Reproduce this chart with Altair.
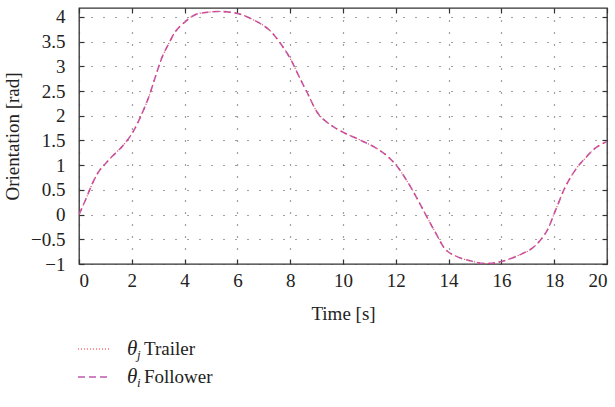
import altair as alt
import pandas as pd

# Orientation trajectory (time in s, angle in rad)
time_s = [0, 0.25, 0.5, 0.76, 1.0, 1.26, 1.64, 2.02, 2.34, 2.65, 2.9, 3.16, 3.41,
          3.66, 4.04, 4.42, 4.8, 5.3, 6.0, 6.57, 7.2, 7.7, 8.02, 8.33, 8.65, 9.09,
          9.6, 10.1, 10.61, 11.24, 11.62, 12.0, 12.39, 12.76, 13.13, 13.51, 13.89,
          14.27, 14.77, 15.4, 16.0, 16.67, 17.17, 17.68, 18.06, 18.43, 18.81,
          19.19, 19.57, 20.0]
orientation = [0, 0.30, 0.62, 0.88, 1.03, 1.18, 1.38, 1.65, 1.99, 2.39, 2.80, 3.20,
               3.47, 3.71, 3.91, 4.05, 4.09, 4.11, 4.07, 3.95, 3.74, 3.41, 3.14, 2.80,
               2.46, 2.02, 1.79, 1.64, 1.52, 1.35, 1.21, 1.01, 0.71, 0.37, 0.0, -0.37,
               -0.71, -0.84, -0.93, -0.99, -0.95, -0.82, -0.68, -0.37, 0.10, 0.57,
               0.91, 1.15, 1.35, 1.48]

x_ticks = list(range(0, 21, 2))
y_ticks = [-1, -0.5, 0, 0.5, 1, 1.5, 2, 2.5, 3, 3.5, 4]

series_names = ["Trailer", "Follower"]
series_subs = ["j", "i"]
series_colors = ["#ff2a2a", "#c05aae"]

FONT = "Times New Roman, Liberation Serif, serif"
W, H = 528, 256

df = pd.DataFrame({"t": time_s, "theta": orientation})

xs = alt.Scale(domain=[0, 20], nice=False, zero=False)
ys = alt.Scale(domain=[-1, 4.18], nice=False, zero=False)

tick_style = dict(tickSize=5, tickColor="#333", tickWidth=1.2, domain=False,
                  offset=-5)

x_bottom = alt.Axis(values=x_ticks, title="Time [s]", labelPadding=7,
                    format="~g", titlePadding=14,
                    grid=True, gridDash=[1, 11], gridColor="#444",
                    gridWidth=1.2, **tick_style)
y_left = alt.Axis(values=y_ticks, title="Orientation [rad]", labelPadding=14,
                  format="~g", titlePadding=8,
                  grid=True, gridDash=[1, 11], gridColor="#444",
                  gridWidth=1.2, **tick_style)
x_top = alt.Axis(values=x_ticks, orient="top", labels=False, title=None,
                 grid=False, **tick_style)
y_right = alt.Axis(values=y_ticks, orient="right", labels=False, title=None,
                   grid=False, **tick_style)

follower = alt.Chart(df).mark_line(
    color=series_colors[1], strokeDash=[7, 4], strokeWidth=1.6,
    interpolate="catmull-rom", clip=True
).encode(
    x=alt.X("t:Q", scale=xs, axis=x_bottom),
    y=alt.Y("theta:Q", scale=ys, axis=y_left),
)

trailer = alt.Chart(df).mark_line(
    color=series_colors[0], strokeDash=[1, 4], strokeWidth=1.1,
    interpolate="catmull-rom", clip=True
).encode(
    x=alt.X("t:Q", scale=xs, axis=x_top),
    y=alt.Y("theta:Q", scale=ys, axis=y_right),
)

# Legend below the plot, built from marks
leg = pd.DataFrame({
    "name": series_names,
    "sub": series_subs,
    "color": series_colors,
    "row": [0, 1],
})
row_y = [341, 369]


def legend_row(i, dash, width):
    d = leg[leg["row"] == i]
    y = row_y[i]
    sample = alt.Chart(d).mark_rule(
        color=series_colors[i], strokeDash=dash, strokeWidth=width
    ).encode(x=alt.value(-1), x2=alt.value(30), y=alt.value(y))
    theta = alt.Chart(d).mark_text(
        text="\u03b8", font=FONT, fontStyle="italic", fontSize=21,
        align="left", baseline="middle", color="#222"
    ).encode(x=alt.value(48), y=alt.value(y))
    sub = alt.Chart(d).mark_text(
        font=FONT, fontStyle="italic", fontSize=13, align="left",
        baseline="middle", color="#222"
    ).encode(x=alt.value(58), y=alt.value(y + 6), text="sub:N")
    name = alt.Chart(d).mark_text(
        font=FONT, fontSize=19, align="left", baseline="middle", color="#222"
    ).encode(x=alt.value(65), y=alt.value(y), text="name:N")
    return [sample, theta, sub, name]


layers = [follower, trailer] + legend_row(0, [1, 2], 1.2) + legend_row(1, [7, 4], 1.6)

chart = alt.layer(*layers).resolve_axis(
    x="independent", y="independent"
).properties(
    width=W, height=H,
    autosize=alt.AutoSizeParams(type="none"),
    padding={"left": 79, "top": 8, "right": 8, "bottom": 143},
    background="white",
).configure_view(
    stroke="#333", strokeWidth=1.3
).configure_axis(
    labelFont=FONT, titleFont=FONT, labelFontSize=19, titleFontSize=19,
    labelColor="#222", titleColor="#222", titleFontWeight="normal",
)

chart.save("out.html", embed_options={"renderer": "svg", "actions": False})
